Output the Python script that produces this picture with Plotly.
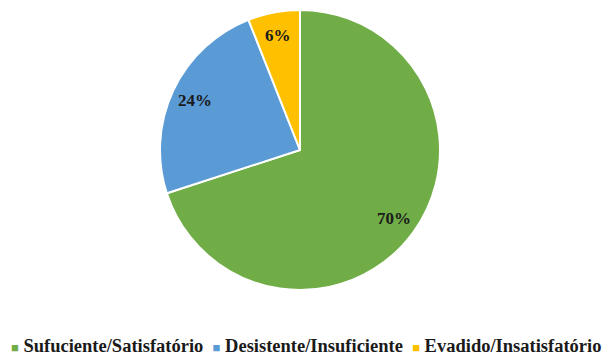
import math
import plotly.graph_objects as go

labels = ["Sufuciente/Satisfatório", "Desistente/Insuficiente", "Evadido/Insatisfatório"]
values = [70, 24, 6]
colors = ["#70AD47", "#5B9BD5", "#FFC000"]

W, H = 602, 358
CX, CY, R = 300, 150, 140
SERIF = "Liberation Serif"

fig = go.Figure(go.Pie(
    labels=labels, values=values, sort=False, direction="clockwise", rotation=0,
    marker=dict(colors=colors, line=dict(color="white", width=2)),
    textinfo="none", hoverinfo="label+percent", showlegend=False,
    domain=dict(x=[(CX-R)/W, (CX+R)/W], y=[1-(CY+R)/H, 1-(CY-R)/H]),
))

total = sum(values)
cum = 0
for v in values:
    mid = (cum + v/2) / total * 2*math.pi
    cum += v
    px = CX + 0.83*R*math.sin(mid)
    py = CY - 0.83*R*math.cos(mid)
    fig.add_annotation(x=px/W, y=1-py/H, xref="paper", yref="paper", showarrow=False,
                       xanchor="center", yanchor="middle",
                       text=f"<b>{round(v/total*100)}%</b>",
                       font=dict(family=SERIF, size=17, color="#1a1a1a"))

# legend row built from the series names and colours
items = [f"<span style='color:{c};font-size:13px'>■</span>&nbsp;{l}" for l, c in zip(labels, colors)]
fig.add_annotation(x=305.5/W, y=1-346/H, xref="paper", yref="paper", showarrow=False,
                   xanchor="center", yanchor="middle",
                   text="<b>" + "&nbsp;&nbsp;".join(items) + "</b>",
                   font=dict(family=SERIF, size=18.5, color="#1a1a1a"))

fig.update_layout(
    width=W, height=H, margin=dict(l=0, r=0, t=0, b=0),
    paper_bgcolor="white", plot_bgcolor="white",
    font=dict(family=SERIF, color="#1a1a1a"),
)
fig.write_html("out.html")
